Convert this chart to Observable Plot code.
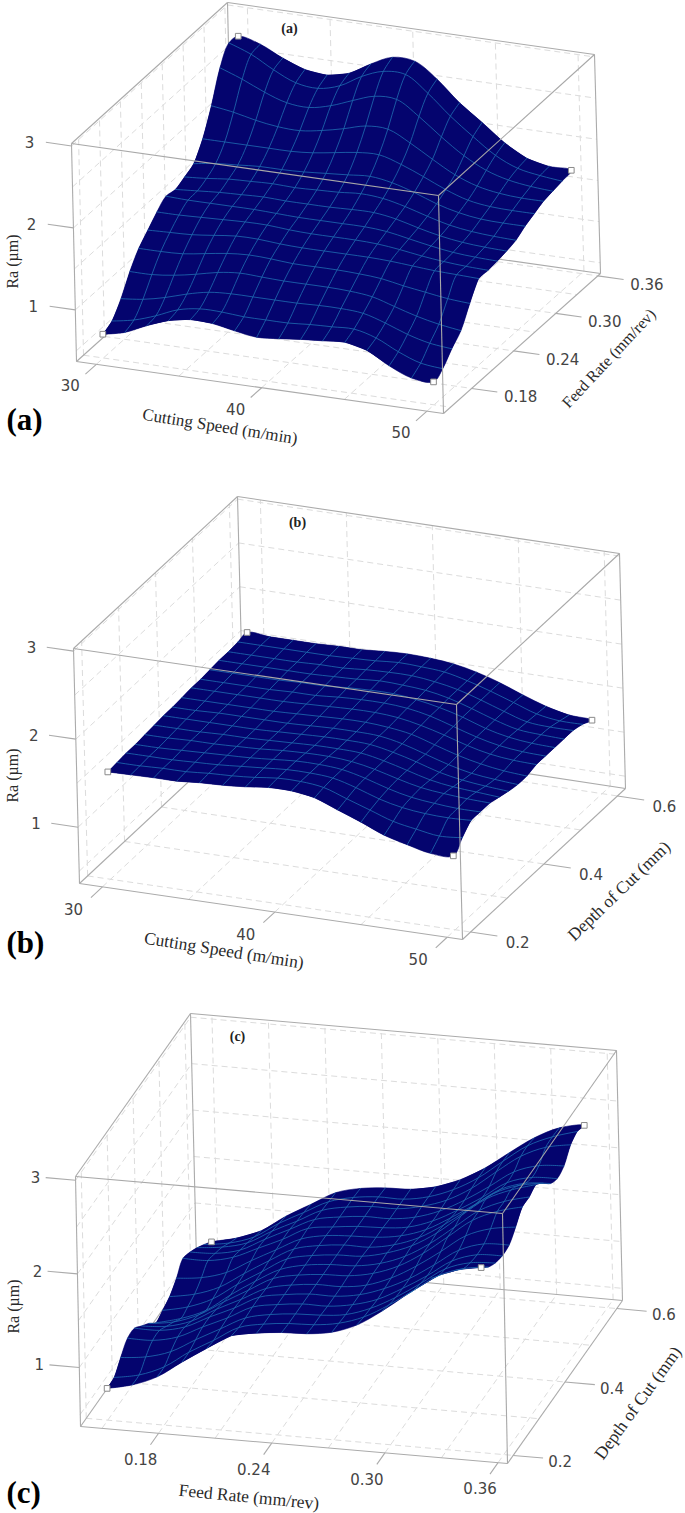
<!DOCTYPE html>
<html><head><meta charset="utf-8">
<script src="https://cdn.jsdelivr.net/npm/d3@7"></script>
<script src="https://cdn.jsdelivr.net/npm/@observablehq/plot@0.6"></script>
<style>html,body{margin:0;padding:0;background:#fff}svg{display:block}</style>
</head><body><div id="chart"></div>
<script>
// ---- mesh axes ----
const speedMesh=[30,31.33,32.67,34,35.33,36.67,38,39.33,40.67,42,43.33,44.67,46,47.33,48.67,50];
const feedMesh=[.15,.1633,.1767,.19,.2033,.2167,.23,.2433,.2567,.27,.2833,.2967,.31,.3233,.3367,.35];
const depthMeshB=[.2,.225,.25,.275,.301,.326,.351,.376,.401,.427,.452,.477,.502,.527,.553,.578];
const depthMeshC=[.2,.227,.253,.28,.307,.333,.36,.387,.413,.44,.467,.493,.52,.547,.573,.6];
// ---- Ra (um), row = depth axis front to back, column = horizontal axis low to high ----
const raA=[
[.66,.72,.84,.94,.99,.98,.93,.89,.91,.94,.96,.98,.92,.77,.66,.65],
[.72,.77,.86,.97,1.02,1.02,1.00,1.00,1.00,1.02,1.03,1.04,.97,.84,.74,.71],
[.89,.92,.98,1.06,1.12,1.14,1.14,1.14,1.14,1.15,1.15,1.13,1.05,.95,.88,.85],
[1.12,1.12,1.15,1.20,1.26,1.29,1.28,1.27,1.27,1.27,1.26,1.23,1.15,1.07,1.01,.97],
[1.30,1.30,1.31,1.35,1.39,1.41,1.40,1.38,1.38,1.38,1.37,1.35,1.30,1.26,1.22,1.20],
[1.42,1.43,1.44,1.47,1.50,1.50,1.48,1.47,1.47,1.47,1.47,1.46,1.44,1.42,1.41,1.40],
[1.54,1.54,1.55,1.56,1.57,1.57,1.55,1.54,1.54,1.54,1.53,1.50,1.46,1.43,1.41,1.40],
[1.63,1.62,1.62,1.62,1.62,1.61,1.60,1.60,1.60,1.60,1.58,1.53,1.48,1.44,1.42,1.41],
[1.61,1.63,1.65,1.66,1.67,1.66,1.66,1.66,1.67,1.67,1.63,1.56,1.50,1.46,1.44,1.43],
[1.66,1.68,1.71,1.72,1.73,1.72,1.73,1.74,1.76,1.74,1.68,1.60,1.53,1.49,1.47,1.46],
[1.72,1.76,1.78,1.80,1.80,1.81,1.83,1.85,1.87,1.83,1.75,1.65,1.58,1.54,1.53,1.53],
[1.92,1.92,1.92,1.92,1.92,1.94,1.98,2.02,2.03,1.95,1.84,1.72,1.63,1.59,1.58,1.58],
[2.22,2.18,2.12,2.08,2.07,2.11,2.17,2.24,2.24,2.11,1.95,1.80,1.70,1.65,1.63,1.63],
[2.58,2.48,2.36,2.27,2.25,2.31,2.41,2.50,2.50,2.33,2.12,1.93,1.79,1.71,1.67,1.65],
[2.78,2.68,2.53,2.41,2.38,2.45,2.60,2.70,2.70,2.51,2.27,2.06,1.87,1.75,1.70,1.67],
[2.76,2.70,2.57,2.47,2.44,2.50,2.65,2.77,2.76,2.58,2.33,2.13,1.92,1.77,1.71,1.70]];
const raB=[
[1.58,1.585,1.59,1.59,1.61,1.62,1.64,1.67,1.67,1.63,1.53,1.43,1.32,1.25,1.19,1.20],
[1.59,1.59,1.60,1.60,1.62,1.63,1.65,1.68,1.68,1.65,1.56,1.47,1.38,1.33,1.29,1.31],
[1.60,1.60,1.60,1.61,1.62,1.64,1.66,1.68,1.68,1.66,1.59,1.50,1.44,1.41,1.40,1.41],
[1.60,1.60,1.61,1.62,1.63,1.64,1.66,1.68,1.68,1.66,1.60,1.52,1.46,1.43,1.41,1.41],
[1.61,1.61,1.62,1.62,1.63,1.64,1.66,1.67,1.67,1.65,1.60,1.53,1.47,1.44,1.42,1.41],
[1.62,1.62,1.62,1.63,1.63,1.64,1.65,1.66,1.66,1.65,1.60,1.53,1.46,1.42,1.40,1.38],
[1.63,1.63,1.63,1.63,1.63,1.64,1.65,1.66,1.66,1.65,1.60,1.53,1.45,1.40,1.37,1.35],
[1.63,1.63,1.64,1.64,1.64,1.64,1.65,1.66,1.66,1.65,1.60,1.52,1.44,1.38,1.35,1.33],
[1.64,1.64,1.64,1.64,1.64,1.65,1.66,1.67,1.67,1.65,1.61,1.53,1.45,1.39,1.35,1.33],
[1.65,1.65,1.65,1.65,1.65,1.66,1.67,1.68,1.68,1.66,1.61,1.54,1.46,1.40,1.37,1.36],
[1.65,1.65,1.65,1.65,1.66,1.66,1.68,1.69,1.69,1.67,1.62,1.54,1.46,1.40,1.37,1.36],
[1.66,1.66,1.66,1.66,1.67,1.67,1.69,1.70,1.70,1.67,1.62,1.55,1.46,1.40,1.37,1.36],
[1.67,1.67,1.67,1.67,1.67,1.68,1.69,1.71,1.70,1.68,1.63,1.55,1.46,1.39,1.37,1.36],
[1.67,1.67,1.67,1.67,1.68,1.68,1.70,1.71,1.71,1.68,1.63,1.55,1.46,1.38,1.36,1.36],
[1.68,1.68,1.68,1.68,1.68,1.69,1.70,1.72,1.71,1.69,1.63,1.55,1.46,1.37,1.33,1.33],
[1.69,1.68,1.68,1.68,1.69,1.69,1.71,1.72,1.71,1.685,1.63,1.55,1.45,1.36,1.30,1.28]];
const raC=[
[.71,.77,.88,1.06,1.23,1.39,1.44,1.47,1.48,1.52,1.62,1.79,1.99,2.19,2.30,2.35],
[.72,.77,.88,1.06,1.21,1.37,1.43,1.46,1.47,1.51,1.60,1.75,1.93,2.11,2.21,2.25],
[.83,.86,.94,1.09,1.23,1.37,1.43,1.46,1.47,1.50,1.59,1.73,1.90,2.08,2.17,2.19],
[.93,.93,.99,1.12,1.24,1.38,1.43,1.46,1.46,1.50,1.58,1.72,1.88,2.06,2.15,2.16],
[.93,.93,.99,1.12,1.24,1.38,1.43,1.46,1.46,1.50,1.59,1.72,1.89,2.07,2.16,2.17],
[.85,.87,.95,1.10,1.23,1.37,1.43,1.46,1.46,1.50,1.60,1.75,1.93,2.12,2.22,2.26],
[.77,.81,.91,1.07,1.22,1.37,1.43,1.46,1.47,1.52,1.62,1.78,1.98,2.18,2.30,2.37],
[.67,.74,.85,1.04,1.21,1.36,1.43,1.46,1.47,1.52,1.62,1.78,1.98,2.18,2.30,2.37],
[.70,.76,.87,1.05,1.21,1.37,1.43,1.46,1.47,1.53,1.63,1.79,2.00,2.20,2.32,2.40],
[.74,.79,.89,1.06,1.22,1.37,1.43,1.46,1.46,1.51,1.61,1.77,1.96,2.15,2.26,2.31],
[.83,.86,.94,1.09,1.23,1.37,1.43,1.45,1.46,1.50,1.59,1.74,1.91,2.09,2.18,2.20],
[.94,.94,1.00,1.12,1.24,1.38,1.42,1.45,1.46,1.49,1.58,1.72,1.88,2.06,2.14,2.15],
[.90,.91,.97,1.11,1.24,1.37,1.42,1.45,1.45,1.49,1.58,1.72,1.89,2.07,2.16,2.18],
[.84,.87,.94,1.09,1.22,1.36,1.42,1.45,1.45,1.50,1.59,1.74,1.94,2.13,2.25,2.30],
[.77,.81,.90,1.07,1.21,1.35,1.42,1.45,1.45,1.50,1.60,1.75,1.95,2.14,2.26,2.34],
[.69,.755,.86,1.04,1.19,1.34,1.41,1.44,1.45,1.50,1.60,1.75,1.94,2.12,2.25,2.30]];
// ---- axes ----
const raTicks=[1,2,3], raGrid=[.5,1,1.5,2,2.5,3];
const speedTicks=[30,40,50], speedGrid=[30,35,40,45,50];
const feedTicks=[.18,.24,.30,.36], feedGrid=[.15,.18,.21,.24,.27,.30,.33,.36];
const depthTicks=[.2,.4,.6], depthGrid=[.2,.3,.4,.5,.6];

// ---- view of each box: projected corners and axis spans ----
const panels=[
 {name:"(a)",ra:raA,xs:speedMesh,ds:feedMesh,
  c:{FBL:[76,361],FBR:[443,413],BBL:[232,221],BBR:[600,273],FTL:[71,143],FTR:[438,195],BTL:[227,2],BTR:[594,54]},
  xd:[28.8,51.0],dd:[.1399,.3638],zd:[.37,3.03],
  xt:speedTicks,xg:speedGrid,xf:d=>d3.format("d")(d),dt:feedTicks,dg:feedGrid,df:d=>d.toFixed(2),
  xo:[-26,22],do:[49,9],zo:[-42,-3],
  xTitle:"Cutting Speed (m/min)",dTitle:"Feed Rate (mm/rev)",
  xT:[-40,39,9,17],dT:[87,15,-47,16],zT:[12,261],
  big:[6,420],small:[289,28]},
 {name:"(b)",ra:raB,xs:speedMesh,ds:depthMeshB,
  c:{FBL:[79,883],FBR:[462,939],BBL:[243,730],BBR:[625,788],FTL:[73,648],FTR:[456,704],BTL:[237,496],BTR:[619,553]},
  xd:[28.67,50.89],dd:[.178,.622],zd:[.36,3.03],
  xt:speedTicks,xg:speedGrid,xf:d=>d3.format("d")(d),dt:depthTicks,dg:depthGrid,df:d=>d.toFixed(1),
  xo:[-29,23],do:[47,11],zo:[-42,-3],
  xTitle:"Cutting Speed (m/min)",dTitle:"Depth of Cut (mm)",
  xT:[-47,39,9,17.5],dT:[75,27,-44,17.5],zT:[12,775],
  big:[6,943],small:[297,522]},
 {name:"(c)",ra:raC,xs:feedMesh,ds:depthMeshC,
  c:{FBL:[80,1426],FBR:[507,1463],BBL:[196,1261],BBR:[622,1300],FTL:[75,1176],FTR:[502,1213],BTL:[190,1013],BTR:[616,1050]},
  xd:[.1386,.3650],dd:[.178,.622],zd:[.37,3.04],
  xt:feedTicks,xg:feedGrid,xf:d=>d.toFixed(2),dt:depthTicks,dg:depthGrid,df:d=>d.toFixed(1),
  xo:[-18,27],do:[47,7],zo:[-40,-2],
  xTitle:"Feed Rate (mm/rev)",dTitle:"Depth of Cut (mm)",
  xT:[-45,52,5.5,17.5],dT:[73,21,-54,17.5],zT:[13,1306],
  big:[6,1493],small:[237,1036]}
];

function projector(p){
  const norm=(a,[lo,hi])=>(a-lo)/(hi-lo), mix=(a,b,t)=>[a[0]+(b[0]-a[0])*t,a[1]+(b[1]-a[1])*t];
  return (x,d,z)=>{
    const t=norm(x,p.xd),v=norm(d,p.dd),w=norm(z,p.zd),c=p.c;
    const bot=mix(mix(c.FBL,c.FBR,t),mix(c.BBL,c.BBR,t),v);
    const top=mix(mix(c.FTL,c.FTR,t),mix(c.BTL,c.BTR,t),v);
    return mix(bot,top,w);
  };
}
const marks=[];
const gridStyle={stroke:"#dcdcdc",strokeWidth:1,strokeDasharray:"6,4"};
const boxStyle={stroke:"#ababab",strokeWidth:1.1};
const link=(a,b)=>({x1:a[0],y1:a[1],x2:b[0],y2:b[1]});
const linkMark=(rows,style)=>Plot.link(rows,{x1:"x1",y1:"y1",x2:"x2",y2:"y2",...style});
const serif="Liberation Serif", sans="DejaVu Sans";

for(const p of panels){
  const P=projector(p), [x0,x1]=p.xd,[d0,d1]=p.dd,[z0,z1]=p.zd;
  // dashed walls and floor
  const dashes=[];
  for(const x of p.xg){dashes.push(link(P(x,d0,z0),P(x,d1,z0)),link(P(x,d1,z0),P(x,d1,z1)));}
  for(const d of p.dg){dashes.push(link(P(x0,d,z0),P(x1,d,z0)),link(P(x0,d,z0),P(x0,d,z1)));}
  for(const z of raGrid){dashes.push(link(P(x0,d1,z),P(x1,d1,z)),link(P(x0,d0,z),P(x0,d1,z)));}
  marks.push(linkMark(dashes,gridStyle));
  // box edges behind the surface
  const c=p.c;
  marks.push(linkMark([[c.BTL,c.BTR],[c.BTL,c.BBL],[c.BTR,c.BBR],[c.BBL,c.BBR],[c.FBL,c.BBL],[c.FBL,c.FBR],[c.FBR,c.BBR],[c.FBL,c.FTL],[c.FTL,c.BTL]].map(([a,b])=>link(a,b)),boxStyle));
  // ticks
  const ticks=[];
  for(const x of p.xt)ticks.push(link(P(x,d0,z0),P(x,d0-(d1-d0)*.07,z0)));
  for(const d of p.dt)ticks.push(link(P(x1,d,z0),P(x1+(x1-x0)*.07,d,z0)));
  for(const z of raTicks)ticks.push(link(P(x0,d0,z),P(x0-(x1-x0)*.07,d0,z)));
  marks.push(linkMark(ticks,boxStyle));
  // surface: smoothed outline, then cells from the back row to the front row
  const n=p.ds.length,m=p.xs.length,quads=[];
  const node=(i,j)=>{const q=P(p.xs[i],p.ds[j],p.ra[j][i]);return {x:q[0],y:q[1]};};
  const outline=[];
  for(let i=0;i<m;i++)outline.push(node(i,0));
  for(let j=1;j<n;j++)outline.push(node(m-1,j));
  for(let i=m-2;i>=0;i--)outline.push(node(i,n-1));
  for(let j=n-2;j>=0;j--)outline.push(node(0,j));
  marks.push(Plot.line(outline,{x:"x",y:"y",curve:"catmull-rom",fill:"#04046e",stroke:"#04046e",strokeWidth:.6}));
  for(let j=n-2;j>=0;j--)for(let i=0;i<m-1;i++){
    const id=`${j}-${i}`;
    for(const [a,b] of [[i,j],[i+1,j],[i+1,j+1],[i,j+1],[i,j]])quads.push({...node(a,b),id});
  }
  marks.push(Plot.line(quads,{x:"x",y:"y",z:"id",fill:"#04046e",stroke:"none"}));
  // mesh lines
  const mesh=[];
  for(let j=1;j<n-1;j++)for(let i=0;i<m;i++)mesh.push({...node(i,j),id:"r"+j});
  for(let i=1;i<m-1;i++)for(let j=0;j<n;j++)mesh.push({...node(i,j),id:"c"+i});
  marks.push(Plot.line(mesh,{x:"x",y:"y",z:"id",curve:"catmull-rom",stroke:"#1f6fb2",strokeWidth:.8}));
  // box edges in front of the surface
  marks.push(linkMark([[c.FTL,c.FTR],[c.FTR,c.FBR],[c.FTR,c.BTR]].map(([a,b])=>link(a,b)),{...boxStyle,stroke:"#a8a8a8"}));
  // corner markers
  marks.push(Plot.dot([node(0,0),node(m-1,0),node(0,n-1),node(m-1,n-1)],{x:"x",y:"y",symbol:"square",r:3.2,fill:"white",stroke:"#8a8a8a",strokeWidth:1}));
  // tick labels
  const labels=[];
  for(const x of p.xt){const q=P(x,d0,z0);labels.push({x:q[0],y:q[1],t:p.xf(x),o:p.xo});}
  for(const d of p.dt){const q=P(x1,d,z0);labels.push({x:q[0],y:q[1],t:p.df(d),o:p.do});}
  for(const z of raTicks){const q=P(x0,d0,z);labels.push({x:q[0],y:q[1],t:String(z),o:p.zo});}
  marks.push(Plot.text(labels,{x:d=>d.x+d.o[0],y:d=>d.y+d.o[1],text:"t",fontFamily:sans,fontSize:15,fill:"#444"}));
  // axis titles
  const mx=P((x0+x1)/2,d0,z0),md=P(x1,(d0+d1)/2,z0);
  const titles=[
    {x:mx[0]+p.xT[0],y:mx[1]+p.xT[1],t:p.xTitle,r:p.xT[2],s:p.xT[3]},
    {x:md[0]+p.dT[0],y:md[1]+p.dT[1],t:p.dTitle,r:p.dT[2],s:p.dT[3]},
    {x:p.zT[0],y:p.zT[1],t:"Ra (µm)",r:-90,s:16}];
  for(const t of titles)marks.push(Plot.text([t],{x:"x",y:"y",text:"t",rotate:t.r,fontFamily:serif,fontSize:t.s,fill:"#2a2a2a"}));
  // panel letters
  marks.push(Plot.text([{x:p.big[0],y:p.big[1],t:p.name}],{x:"x",y:"y",text:"t",textAnchor:"start",fontFamily:serif,fontWeight:"bold",fontSize:31,fill:"#000"}));
  marks.push(Plot.text([{x:p.small[0],y:p.small[1],t:p.name}],{x:"x",y:"y",text:"t",fontFamily:serif,fontWeight:"bold",fontSize:14,fill:"#222"}));
}

const chart=Plot.plot({
  width:685,height:1513,margin:0,
  x:{domain:[0,685],range:[0,685],axis:null},
  y:{domain:[0,1513],range:[0,1513],axis:null},
  style:{background:"#fff"},
  marks
});
document.getElementById("chart").append(chart);
</script></body></html>
